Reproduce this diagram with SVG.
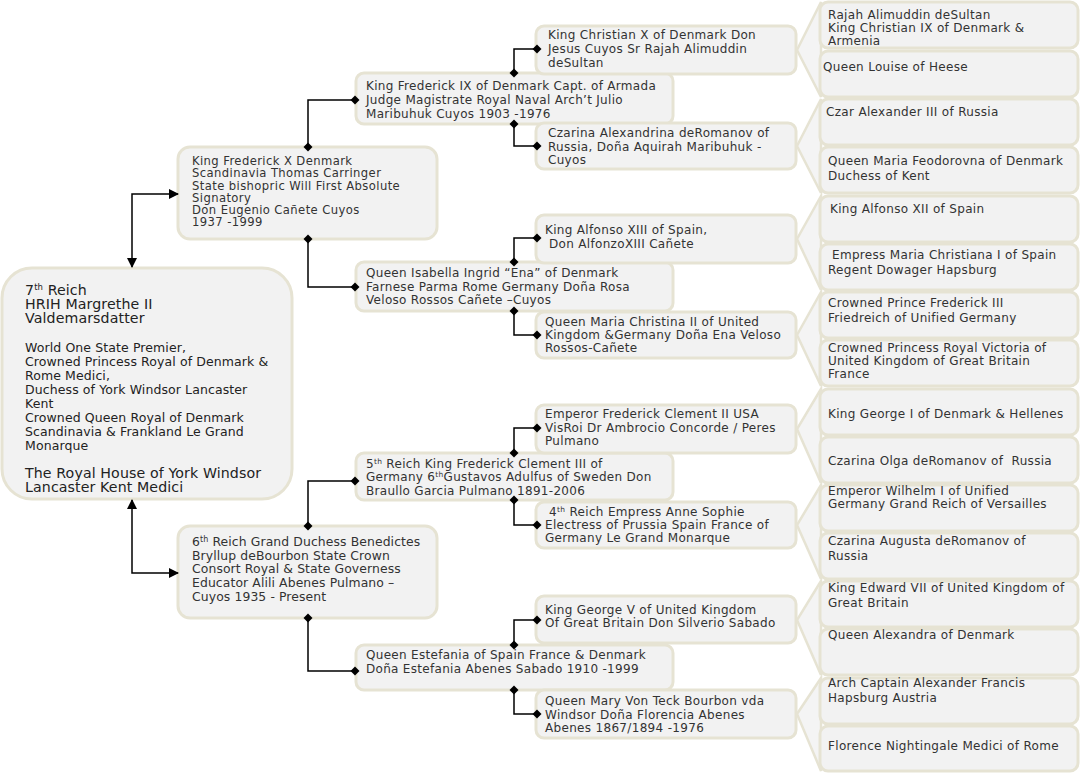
<svg xmlns="http://www.w3.org/2000/svg" width="1081" height="773" viewBox="0 0 1081 773">
<style>
.box{fill:#f2f2f2;stroke:#e6e3d3;stroke-width:3}
.chev{fill:#f4f4f4;stroke:#e6e3d3;stroke-width:2.5;stroke-linejoin:miter}
text{font-family:"DejaVu Sans",Verdana,sans-serif;fill:#333;font-size:12px;letter-spacing:0.32px}
.s12{font-size:12px;letter-spacing:0.3px}
.s11{font-size:11.6px;letter-spacing:0.4px}
.sb{font-size:12.4px;letter-spacing:0.1px}
.big{font-size:14.2px;fill:#222;letter-spacing:0.1px}
.root{font-size:12.5px;fill:#222;letter-spacing:0.1px}
.ln{fill:none;stroke:#000;stroke-width:1.5}
.dia{marker-start:url(#dm);marker-end:url(#dm)}
.arr{marker-start:url(#am);marker-end:url(#am)}
</style>
<defs>
<marker id="dm" markerUnits="userSpaceOnUse" markerWidth="10" markerHeight="10" refX="5" refY="5" orient="auto"><path d="M0.5,5 L5,0.5 L9.5,5 L5,9.5 Z" fill="#000"/></marker>
<marker id="am" markerUnits="userSpaceOnUse" markerWidth="10" markerHeight="10" refX="9" refY="5" orient="auto-start-reverse"><path d="M0,0 L10,5 L0,10 Z" fill="#000"/></marker>
</defs>
<rect width="1081" height="773" fill="#fff"/>

<g id="brackets">
<polygon class="chev" points="821,2 797,50 821,97"/>
<polygon class="chev" points="821,99 797,146 821,193"/>
<polygon class="chev" points="821,196 797,239 821,290"/>
<polygon class="chev" points="821,292 797,335 821,386"/>
<polygon class="chev" points="821,389 797,429 821,483"/>
<polygon class="chev" points="821,485 797,525 821,579"/>
<polygon class="chev" points="821,581 797,620 821,675"/>
<polygon class="chev" points="821,678 797,714 821,771"/>
</g>

<g id="root">
<rect class="box" x="2" y="268" width="290" height="231" rx="30"/>
<text class="big" x="25" y="295">7<tspan font-size="8.5" baseline-shift="super">th</tspan> Reich</text>
<text class="big" x="25" y="309">HRIH Margrethe II</text>
<text class="big" x="25" y="323">Valdemarsdatter</text>
<text class="root" x="25" y="352">World One State Premier,</text>
<text class="root" x="25" y="366">Crowned Princess Royal of Denmark &amp;</text>
<text class="root" x="25" y="380">Rome Medici,</text>
<text class="root" x="25" y="394">Duchess of York Windsor Lancaster</text>
<text class="root" x="25" y="408">Kent</text>
<text class="root" x="25" y="422">Crowned Queen Royal of Denmark</text>
<text class="root" x="25" y="436">Scandinavia &amp; Frankland Le Grand</text>
<text class="root" x="25" y="450">Monarque</text>
<text class="big" x="25" y="478">The Royal House of York Windsor</text>
<text class="big" x="25" y="492">Lancaster Kent Medici</text>
</g>

<g id="n-frederick-x">
<rect class="box" x="178" y="147" width="259" height="92" rx="12"/>
<text class="s11" x="192" y="164.5">King Frederick X Denmark</text>
<text class="s11" x="192" y="177">Scandinavia Thomas Carringer</text>
<text class="s11" x="192" y="189.5">State bishopric Will First Absolute</text>
<text class="s11" x="192" y="201.5">Signatory</text>
<text class="s11" x="192" y="214">Don Eugenio Cañete Cuyos</text>
<text class="s11" x="192" y="226">1937 -1999</text>
</g>

<g id="n-benedictes">
<rect class="box" x="178" y="526" width="259" height="92" rx="12"/>
<text class="sb" x="192" y="546">6<tspan font-size="8" baseline-shift="super">th</tspan> Reich Grand Duchess Benedictes</text>
<text class="sb" x="192" y="559.5">Bryllup deBourbon State Crown</text>
<text class="sb" x="192" y="573">Consort Royal &amp; State Governess</text>
<text class="sb" x="192" y="587">Educator Alili Abenes Pulmano –</text>
<text class="sb" x="192" y="601">Cuyos 1935 - Present</text>
</g>

<g id="n-frederick-ix">
<rect class="box" x="356" y="73" width="317" height="51" rx="8"/>
<text class="s12" x="366" y="90">King Frederick IX of Denmark Capt. of Armada</text>
<text class="s12" x="366" y="104">Judge Magistrate Royal Naval Arch’t Julio</text>
<text class="s12" x="366" y="117.5">Maribuhuk Cuyos 1903 -1976</text>
</g>

<g id="n-isabella">
<rect class="box" x="356" y="262" width="317" height="49" rx="8"/>
<text class="s12" x="366" y="277">Queen Isabella Ingrid “Ena” of Denmark</text>
<text class="s12" x="366" y="290.5">Farnese Parma Rome Germany Doña Rosa</text>
<text class="s12" x="366" y="304">Veloso Rossos Cañete –Cuyos</text>
</g>

<g id="n-frederick-clement-iii">
<rect class="box" x="356" y="453" width="317" height="47" rx="8"/>
<text class="s12" x="366" y="467.5">5<tspan font-size="7.5" baseline-shift="super">th</tspan> Reich King Frederick Clement III of</text>
<text class="s12" x="366" y="481">Germany 6<tspan font-size="7.5" baseline-shift="super">th</tspan>Gustavos Adulfus of Sweden Don</text>
<text class="s12" x="366" y="494.5">Braullo Garcia Pulmano 1891-2006</text>
</g>

<g id="n-estefania">
<rect class="box" x="356" y="645" width="317" height="45" rx="8"/>
<text class="s12" x="366" y="659">Queen Estefania of Spain France &amp; Denmark</text>
<text class="s12" x="366" y="673">Doña Estefania Abenes Sabado 1910 -1999</text>
</g>

<g id="n-christian-x">
<rect class="box" x="536" y="26" width="260" height="48" rx="8"/>
<text x="548" y="38.5">King Christian X of Denmark Don</text>
<text x="548" y="52.5">Jesus Cuyos Sr Rajah Alimuddin</text>
<text x="548" y="66.5">deSultan</text>
</g>

<g id="n-alexandrina">
<rect class="box" x="536" y="123" width="260" height="46" rx="8"/>
<text x="548" y="137">Czarina Alexandrina deRomanov of</text>
<text x="548" y="150.5">Russia, Doña Aquirah Maribuhuk -</text>
<text x="548" y="164">Cuyos</text>
</g>

<g id="n-alfonso-xiii">
<rect class="box" x="536" y="215" width="260" height="48" rx="8"/>
<text x="545" y="234">King Alfonso XIII of Spain,</text>
<text x="549" y="247.5">Don AlfonzoXIII Cañete</text>
</g>

<g id="n-maria-christina-ii">
<rect class="box" x="536" y="312" width="260" height="46" rx="8"/>
<text x="545" y="325.5">Queen Maria Christina II of United</text>
<text x="545" y="338.5">Kingdom &amp;Germany Doña Ena Veloso</text>
<text x="545" y="351.5">Rossos-Cañete</text>
</g>

<g id="n-frederick-clement-ii">
<rect class="box" x="536" y="405" width="260" height="48" rx="8"/>
<text x="545" y="418">Emperor Frederick Clement II USA</text>
<text x="545" y="431.5">VisRoi Dr Ambrocio Concorde / Peres</text>
<text x="545" y="445">Pulmano</text>
</g>

<g id="n-anne-sophie">
<rect class="box" x="536" y="502" width="260" height="46" rx="8"/>
<text x="549" y="515.5">4<tspan font-size="7.5" baseline-shift="super">th</tspan> Reich Empress Anne Sophie</text>
<text x="545" y="528.5">Electress of Prussia Spain France of</text>
<text x="545" y="541.5">Germany Le Grand Monarque</text>
</g>

<g id="n-george-v">
<rect class="box" x="536" y="596" width="260" height="47" rx="8"/>
<text x="545" y="613.5">King George V of United Kingdom</text>
<text x="545" y="627">Of Great Britain Don Silverio Sabado</text>
</g>

<g id="n-mary-von-teck">
<rect class="box" x="536" y="690" width="260" height="48" rx="8"/>
<text x="545" y="705">Queen Mary Von Teck Bourbon vda</text>
<text x="545" y="718.5">Windsor Doña Florencia Abenes</text>
<text x="545" y="731.5">Abenes 1867/1894 -1976</text>
</g>

<g id="n-r01"><rect class="box" x="820" y="2" width="258" height="46" rx="8"/>
<text x="828" y="19">Rajah Alimuddin deSultan</text>
<text x="828" y="32">King Christian IX of Denmark &amp;</text>
<text x="828" y="45">Armenia</text></g>
<g id="n-r02"><rect class="box" x="820" y="51" width="258" height="46" rx="8"/>
<text x="823" y="71">Queen Louise of Heese</text></g>
<g id="n-r03"><rect class="box" x="820" y="99" width="258" height="46" rx="8"/>
<text x="826" y="116">Czar Alexander III of Russia</text></g>
<g id="n-r04"><rect class="box" x="820" y="147" width="258" height="46" rx="8"/>
<text x="828" y="165">Queen Maria Feodorovna of Denmark</text>
<text x="828" y="180">Duchess of Kent</text></g>
<g id="n-r05"><rect class="box" x="820" y="196" width="258" height="46" rx="8"/>
<text x="830" y="213">King Alfonso XII of Spain</text></g>
<g id="n-r06"><rect class="box" x="820" y="244" width="258" height="46" rx="8"/>
<text x="832" y="259">Empress Maria Christiana I of Spain</text>
<text x="828" y="274">Regent Dowager Hapsburg</text></g>
<g id="n-r07"><rect class="box" x="820" y="292" width="258" height="46" rx="8"/>
<text x="828" y="307">Crowned Prince Frederick III</text>
<text x="828" y="322">Friedreich of Unified Germany</text></g>
<g id="n-r08"><rect class="box" x="820" y="340" width="258" height="46" rx="8"/>
<text x="828" y="352">Crowned Princess Royal Victoria of</text>
<text x="828" y="365">United Kingdom of Great Britain</text>
<text x="828" y="378">France</text></g>
<g id="n-r09"><rect class="box" x="820" y="389" width="258" height="46" rx="8"/>
<text x="828" y="418">King George I of Denmark &amp; Hellenes</text></g>
<g id="n-r10"><rect class="box" x="820" y="437" width="258" height="46" rx="8"/>
<text x="828" y="465" xml:space="preserve">Czarina Olga deRomanov of  Russia</text></g>
<g id="n-r11"><rect class="box" x="820" y="485" width="258" height="46" rx="8"/>
<text x="828" y="495">Emperor Wilhelm I of Unified</text>
<text x="828" y="508">Germany Grand Reich of Versailles</text></g>
<g id="n-r12"><rect class="box" x="820" y="533" width="258" height="46" rx="8"/>
<text x="828" y="545">Czarina Augusta deRomanov of</text>
<text x="828" y="560">Russia</text></g>
<g id="n-r13"><rect class="box" x="820" y="581" width="258" height="46" rx="8"/>
<text x="828" y="592">King Edward VII of United Kingdom of</text>
<text x="828" y="607">Great Britain</text></g>
<g id="n-r14"><rect class="box" x="820" y="629" width="258" height="46" rx="8"/>
<text x="828" y="639">Queen Alexandra of Denmark</text></g>
<g id="n-r15"><rect class="box" x="820" y="678" width="258" height="46" rx="8"/>
<text x="828" y="687">Arch Captain Alexander Francis</text>
<text x="828" y="702">Hapsburg Austria</text></g>
<g id="n-r16"><rect class="box" x="820" y="726" width="258" height="45" rx="8"/>
<text x="828" y="750">Florence Nightingale Medici of Rome</text></g>

<g id="connectors">
<path class="ln arr" d="M132,267 V194 H178"/>
<path class="ln arr" d="M132,500 V573 H178"/>
<path class="ln dia" d="M308,147 V100 H355"/>
<path class="ln dia" d="M308,239 V287 H355"/>
<path class="ln dia" d="M308,526 V481 H355"/>
<path class="ln dia" d="M308,618 V671 H355"/>
<path class="ln dia" d="M514,73 V49 H537"/>
<path class="ln dia" d="M514,124 V146 H537"/>
<path class="ln dia" d="M514,262 V238 H537"/>
<path class="ln dia" d="M514,311 V335 H537"/>
<path class="ln dia" d="M514,453 V428 H537"/>
<path class="ln dia" d="M514,500 V525 H537"/>
<path class="ln dia" d="M514,645 V620 H537"/>
<path class="ln dia" d="M514,690 V714 H537"/>
</g>
</svg>
